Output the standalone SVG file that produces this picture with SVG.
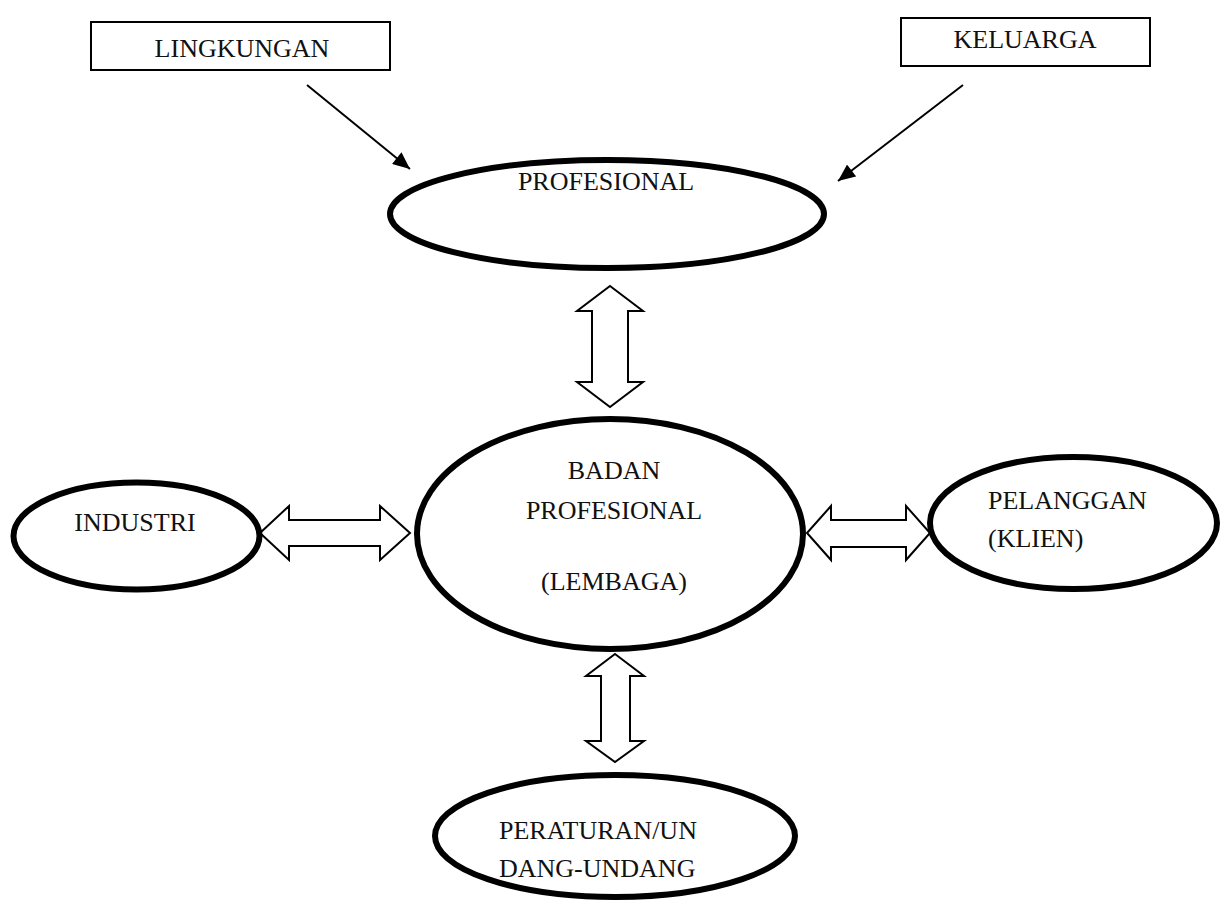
<svg xmlns="http://www.w3.org/2000/svg" width="1225" height="904" viewBox="0 0 1225 904">
  <style>
    .box { fill: #fff; stroke: #000; stroke-width: 2; }
    .oval { fill: #fff; stroke: #000; stroke-width: 6; }
    .lbl { font-family: "Liberation Serif", "Times New Roman", serif; font-size: 26px; fill: #111; }
    .mid { text-anchor: middle; }
    .line { stroke: #000; stroke-width: 2; fill: none; }
    .dbl { fill: #fff; stroke: #000; stroke-width: 2; stroke-linejoin: miter; }
  </style>
  <defs>
    <marker id="arrowhead" viewBox="0 0 16 14" refX="16" refY="7" markerWidth="18" markerHeight="15" markerUnits="userSpaceOnUse" orient="auto">
      <path d="M0,0 L16,7 L0,14 z" fill="#000"/>
    </marker>
  </defs>

  <g id="connectors">
    <line class="line" x1="307" y1="85" x2="410" y2="169" marker-end="url(#arrowhead)"/>
    <line class="line" x1="963" y1="85" x2="838" y2="181" marker-end="url(#arrowhead)"/>
    <!-- PROFESIONAL <-> BADAN -->
    <path class="dbl" d="M610,286 L643,311 L628,311 L628,382 L643,382 L610,407 L577,382 L592,382 L592,311 L577,311 Z"/>
    <!-- BADAN <-> PERATURAN -->
    <path class="dbl" d="M615,654 L644,676 L630,676 L630,741 L644,741 L615,762 L586,741 L601,741 L601,676 L586,676 Z"/>
    <!-- INDUSTRI <-> BADAN -->
    <path class="dbl" d="M260,533 L289,506 L289,520 L380,520 L380,506 L410,533 L380,560 L380,546 L289,546 L289,560 Z"/>
    <!-- BADAN <-> PELANGGAN -->
    <path class="dbl" d="M807,533 L831,506 L831,520 L906,520 L906,506 L930,533 L906,560 L906,547 L831,547 L831,560 Z"/>
  </g>

  <g id="lingkungan">
    <rect class="box" x="91" y="22" width="299" height="48"/>
    <text class="lbl mid" x="242" y="57">LINGKUNGAN</text>
  </g>

  <g id="keluarga">
    <rect class="box" x="901" y="18" width="249" height="48"/>
    <text class="lbl mid" x="1025" y="48">KELUARGA</text>
  </g>

  <g id="profesional">
    <ellipse class="oval" cx="607" cy="214" rx="217" ry="54"/>
    <text class="lbl mid" x="606" y="190">PROFESIONAL</text>
  </g>

  <g id="badan-profesional">
    <ellipse class="oval" cx="610" cy="534" rx="193" ry="115"/>
    <text class="lbl mid" x="614" y="479">BADAN</text>
    <text class="lbl mid" x="614" y="519">PROFESIONAL</text>
    <text class="lbl mid" x="614" y="590">(LEMBAGA)</text>
  </g>

  <g id="industri">
    <ellipse class="oval" cx="136.5" cy="536" rx="123" ry="53.5"/>
    <text class="lbl mid" x="135" y="531">INDUSTRI</text>
  </g>

  <g id="pelanggan">
    <ellipse class="oval" cx="1073.5" cy="523" rx="143.5" ry="66"/>
    <text class="lbl" x="988" y="509">PELANGGAN</text>
    <text class="lbl" x="988" y="547">(KLIEN)</text>
  </g>

  <g id="peraturan">
    <ellipse class="oval" cx="615" cy="836" rx="180" ry="61"/>
    <text class="lbl" x="499" y="839">PERATURAN/UN</text>
    <text class="lbl" x="499" y="877">DANG-UNDANG</text>
  </g>
</svg>
